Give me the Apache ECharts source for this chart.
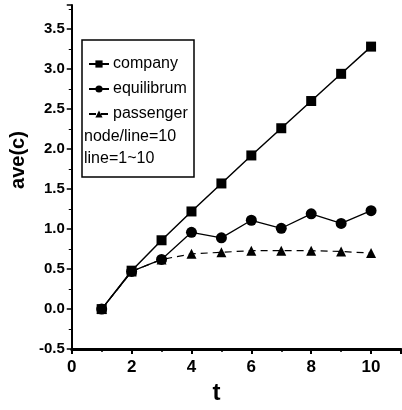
<!DOCTYPE html>
<html><head><meta charset="utf-8">
<script src="https://cdn.jsdelivr.net/npm/echarts@6/dist/echarts.min.js"></script>
<style>html,body{margin:0;padding:0;background:#fff}#c{width:402px;height:410px}</style>
</head><body><div id="c"></div>
<script>
const tValues = [1, 2, 3, 4, 5, 6, 7, 8, 9, 10];
const company = [0.00, 0.48, 0.86, 1.22, 1.57, 1.92, 2.26, 2.60, 2.94, 3.28];
const equilibrum = [0.00, 0.47, 0.62, 0.96, 0.89, 1.11, 1.01, 1.19, 1.07, 1.23];
const passenger = [0.00, 0.47, 0.62, 0.69, 0.71, 0.73, 0.73, 0.73, 0.72, 0.70];
const seriesNames = ['company', 'equilibrum', 'passenger'];
const noteLines = ['node/line=10', 'line=1~10'];

const pair = arr => tValues.map((t, i) => [t, arr[i]]);
const chart = echarts.init(document.getElementById('c'), null, {renderer: 'canvas'});
const font = 'Liberation Sans, Arial, sans-serif';
chart.setOption({
  animation: false,
  backgroundColor: '#fff',
  grid: {left: 58, right: 1, top: 5, bottom: 50, containLabel: false},
  xAxis: {
    type: 'value', min: 0, max: 11, interval: 2,
    name: 't', nameLocation: 'middle', nameGap: 24,
    nameTextStyle: {fontFamily: font, fontWeight: 'bold', fontSize: 24, color: '#000', padding: [0, 40, 0, 0]},
    axisLine: {show: true, onZero: false, lineStyle: {color: '#000', width: 3}},
    axisTick: {show: true, inside: false, length: 5, lineStyle: {color: '#000', width: 2}},
    minorTick: {show: true, splitNumber: 2, length: 3, lineStyle: {color: '#000', width: 1.5}},
    axisLabel: {fontFamily: font, fontWeight: 'bold', fontSize: 17, color: '#000', margin: 10,
      showMaxLabel: false},
    splitLine: {show: false}
  },
  yAxis: {
    type: 'value', min: -0.5, max: 3.8, interval: 0.5,
    name: 'ave(c)', nameLocation: 'middle', nameGap: 43, nameRotate: 90,
    nameTextStyle: {fontFamily: font, fontWeight: 'bold', fontSize: 20, color: '#000', padding: [0, 0, 0, 34]},
    axisLine: {show: true, onZero: false, lineStyle: {color: '#000', width: 2}},
    axisTick: {show: true, inside: false, length: 5, lineStyle: {color: '#000', width: 1.5}},
    minorTick: {show: true, splitNumber: 2, length: 3, lineStyle: {color: '#000', width: 1}},
    axisLabel: {fontFamily: font, fontWeight: 'bold', fontSize: 15, color: '#000', margin: 7,
      showMaxLabel: false, formatter: v => v.toFixed(1)},
    splitLine: {show: false}
  },
  legend: {
    orient: 'vertical', left: 83, top: 51, itemGap: 9, itemWidth: 20, itemHeight: 9,
    data: seriesNames,
    textStyle: {fontFamily: font, fontSize: 16, color: '#000', padding: [0, 0, 0, -1]},
    selectedMode: false
  },
  graphic: [
    {type: 'rect', shape: {x: 82, y: 40, width: 112, height: 137},
     style: {fill: 'rgba(0,0,0,0)', stroke: '#000', lineWidth: 1.5}, z: 10},
    {type: 'text', x: 84, y: 137, style: {text: noteLines[0], font: '16px ' + font, fill: '#000', textVerticalAlign: 'middle'}, z: 10},
    {type: 'text', x: 84, y: 159, style: {text: noteLines[1], font: '16px ' + font, fill: '#000', textVerticalAlign: 'middle'}, z: 10}
  ],
  series: [
    {name: seriesNames[2], type: 'line', data: pair(passenger), symbol: 'triangle', symbolSize: 10,
     itemStyle: {color: '#000'}, lineStyle: {color: '#000', width: 1.2, type: [7, 5]}, z: 2},
    {name: seriesNames[1], type: 'line', data: pair(equilibrum), symbol: 'circle', symbolSize: 11,
     itemStyle: {color: '#000'}, lineStyle: {color: '#000', width: 1.3}, z: 3},
    {name: seriesNames[0], type: 'line', data: pair(company), symbol: 'rect', symbolSize: 10,
     itemStyle: {color: '#000'}, lineStyle: {color: '#000', width: 1.5}, z: 4}
  ]
});
</script></body></html>
